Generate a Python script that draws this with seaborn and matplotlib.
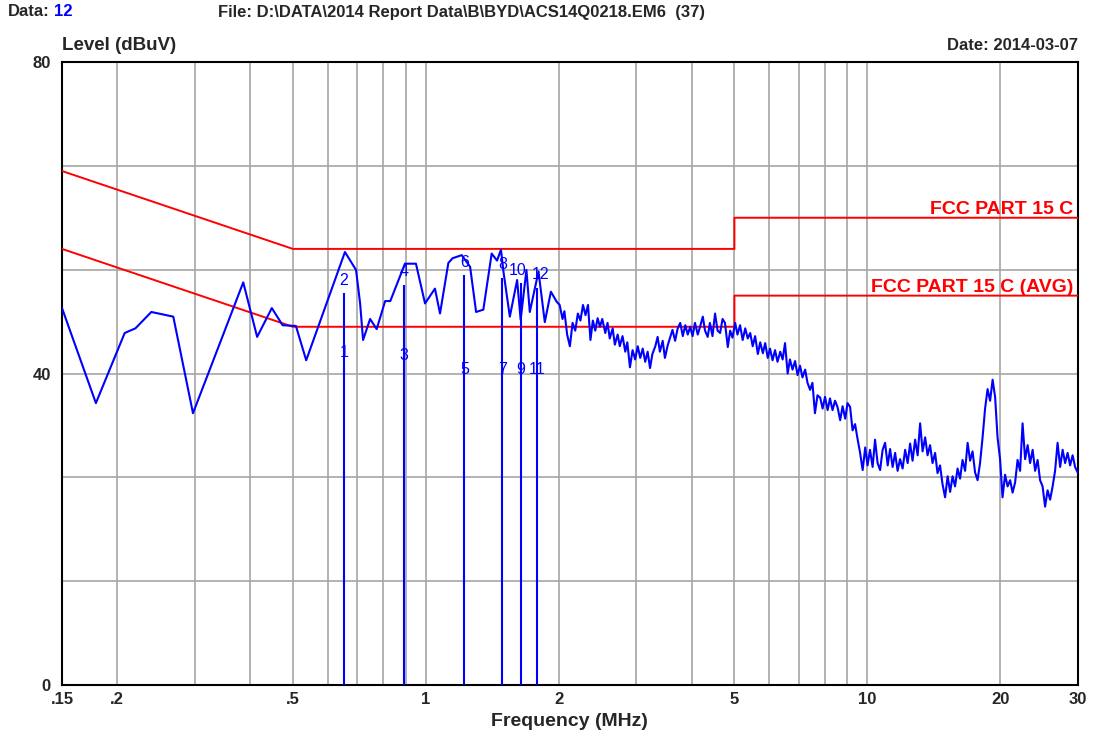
import numpy as np
import pandas as pd
import matplotlib
matplotlib.use("Agg")
import matplotlib.pyplot as plt
import seaborn as sns

# scan trace (MHz, dBuV), below 2 MHz
scan_freq_low = [
    0.150, 0.179, 0.208, 0.220, 0.239, 0.268, 0.297, 0.386, 0.415, 0.448,
    0.474, 0.508, 0.536, 0.656, 0.695, 0.710, 0.721, 0.748, 0.774, 0.809,
    0.831, 0.897, 0.950, 0.996, 1.049, 1.077, 1.125, 1.150, 1.206, 1.260,
    1.300, 1.350, 1.410, 1.450, 1.480, 1.500, 1.550, 1.610, 1.640, 1.690,
    1.720, 1.800, 1.860, 1.920, 1.980,
]
scan_level_low = [
    48.4, 36.2, 45.2, 45.8, 47.9, 47.3, 34.9, 51.7, 44.7, 48.4,
    46.2, 46.1, 41.7, 55.6, 53.3, 49.0, 44.3, 47.0, 45.7, 49.3,
    49.3, 54.1, 54.1, 49.0, 50.9, 47.7, 54.2, 54.8, 55.2, 53.7,
    47.9, 48.2, 55.4, 54.5, 55.9, 53.0, 47.3, 52.0, 46.9, 53.3,
    47.9, 53.1, 46.6, 50.5, 49.2,
]

# 2 - 30 MHz, dense part of the scan
scan_freq_high = [
    2.01, 2.04, 2.06, 2.09, 2.12, 2.15, 2.18, 2.21, 2.24, 2.27, 2.30, 2.33,
    2.36, 2.39, 2.42, 2.45, 2.48, 2.51, 2.55, 2.58, 2.61, 2.65, 2.68, 2.72,
    2.75, 2.79, 2.83, 2.86, 2.90, 2.94, 2.98, 3.02, 3.06, 3.10, 3.14, 3.18,
    3.22, 3.26, 3.31, 3.35, 3.39, 3.44, 3.48, 3.53, 3.57, 3.62, 3.67, 3.72,
    3.77, 3.82, 3.87, 3.92, 3.97, 4.02, 4.07, 4.13, 4.18, 4.24, 4.29, 4.35,
    4.40, 4.46, 4.52, 4.58, 4.64, 4.70, 4.76, 4.83, 4.89, 4.95, 5.02, 5.08,
    5.15, 5.22, 5.29, 5.36, 5.43, 5.50, 5.57, 5.65, 5.72, 5.80, 5.87, 5.95,
    6.02, 6.10, 6.18, 6.26, 6.35, 6.43, 6.51, 6.60, 6.68, 6.77, 6.86, 6.95,
    7.04, 7.13, 7.23, 7.32, 7.42, 7.51, 7.61, 7.71, 7.82, 7.92, 8.02, 8.13,
    8.23, 8.34, 8.45, 8.56, 8.68, 8.79, 8.91, 9.02, 9.14, 9.26, 9.38, 9.51,
    9.63, 9.76, 9.89, 10.01, 10.14, 10.28, 10.41, 10.55, 10.69, 10.83, 10.97, 11.12,
    11.26, 11.41, 11.56, 11.71, 11.86, 12.02, 12.18, 12.34, 12.50, 12.66, 12.83, 13.00,
    13.17, 13.34, 13.52, 13.69, 13.87, 14.05, 14.24, 14.42, 14.61, 14.80, 15.00, 15.20,
    15.40, 15.60, 15.80, 16.01, 16.22, 16.43, 16.65, 16.87, 17.09, 17.31, 17.54, 17.77,
    18.00, 18.24, 18.48, 18.72, 18.97, 19.22, 19.47, 19.72, 19.98, 20.24, 20.51, 20.78,
    21.06, 21.33, 21.61, 21.89, 22.18, 22.47, 22.77, 23.07, 23.37, 23.68, 23.99, 24.30,
    24.62, 24.94, 25.27, 25.60, 25.94, 26.28, 26.62, 26.97, 27.33, 27.69, 28.05, 28.42,
    28.79, 29.17, 29.55, 30.00,
]
scan_level_high = [
    48.8, 47.0, 48.0, 45.0, 43.5, 46.5, 45.5, 47.7, 46.8, 48.8, 47.5, 48.8,
    44.3, 46.8, 45.5, 47.1, 46.0, 47.0, 45.2, 46.5, 44.5, 45.8, 43.7, 45.0,
    43.5, 44.8, 42.8, 44.0, 40.8, 43.0, 41.8, 43.5, 42.0, 43.2, 41.5, 42.8,
    40.7, 42.5, 43.5, 44.7, 42.8, 44.2, 42.0, 43.6, 44.5, 45.6, 44.2, 45.8,
    46.5, 44.8, 46.2, 45.0, 46.0, 44.8, 46.5, 45.0, 46.0, 47.3, 45.5, 44.7,
    46.5, 44.8, 47.7, 45.5, 45.2, 47.0, 46.5, 43.4, 45.5, 44.6, 46.5, 45.0,
    46.2, 44.3, 45.8, 44.5, 45.2, 43.5, 44.8, 42.5, 44.0, 42.6, 43.9, 42.0,
    43.2, 41.7, 43.0, 41.5, 42.8, 41.8, 43.9, 40.0, 41.8, 40.5, 41.6, 39.8,
    41.0, 39.5, 40.5, 38.8, 37.9, 38.8, 34.9, 37.2, 36.9, 35.5, 37.0, 35.3,
    36.8, 35.3, 36.5, 35.7, 34.0, 35.8, 34.2, 36.2, 35.7, 32.7, 33.5, 31.5,
    29.8, 27.6, 30.5, 28.2, 30.2, 28.0, 31.5, 28.5, 27.6, 30.2, 31.1, 28.2,
    30.3, 28.0, 29.8, 27.5, 29.0, 27.8, 30.2, 28.5, 31.0, 28.8, 31.5, 29.5,
    33.6, 30.0, 31.8, 29.5, 30.8, 28.5, 29.8, 27.2, 28.2, 25.8, 24.1, 26.8,
    24.8, 26.8, 25.5, 27.8, 26.5, 28.9, 27.5, 31.1, 28.8, 30.0, 27.3, 26.3,
    28.5, 31.8, 35.5, 38.0, 36.5, 39.2, 37.0, 31.8, 29.0, 24.1, 27.0, 25.5,
    26.3, 24.7, 26.0, 28.9, 27.5, 33.6, 29.0, 30.8, 28.5, 30.2, 27.5, 28.9,
    26.3, 25.5, 22.9, 25.0, 23.8, 25.5, 27.5, 31.1, 28.0, 30.2, 28.5, 29.8,
    28.2, 29.5, 28.0, 27.2,
]

# FCC part 15 C limit lines
limit_freq = [0.15, 0.5, 5, 5, 30]
limit_qp = [66, 56, 56, 60, 60]
limit_avg = [56, 46, 46, 50, 50]

# marker readings: odd numbers = AVG, even numbers = QP
marker_freq = [0.653, 0.894, 1.223, 1.491, 1.644, 1.784]
marker_qp = [50.3, 51.4, 52.6, 52.3, 51.6, 51.0]
marker_avg = [41.0, 40.6, 38.8, 38.8, 38.8, 38.8]

xtick_pos = [0.15, 0.2, 0.5, 1, 2, 5, 10, 20, 30]
xtick_labels = [".15", ".2", ".5", "1", "2", "5", "10", "20", "30"]
xgrid_pos = [0.2, 0.3, 0.4, 0.5, 0.6, 0.7, 0.8, 0.9, 1, 2, 3, 4, 5, 6, 7, 8, 9, 10, 20]
ygrid_pos = [0, 80 / 6, 160 / 6, 40, 320 / 6, 400 / 6, 80]
ytick_labels = ["0", "", "", "40", "", "", "80"]

sns.set_style("white")
plt.rcParams["font.family"] = ["Liberation Sans", "DejaVu Sans"]

W, H = 1099, 737
fig = plt.figure(figsize=(W / 100, H / 100), dpi=100)
ax = fig.add_axes([62 / W, 1 - 685 / H, (1078 - 62) / W, (685 - 62) / H])
ax.set_xscale("log")

df_scan = pd.DataFrame({"freq": scan_freq_low + scan_freq_high,
                        "level": scan_level_low + scan_level_high})
df_lim = pd.DataFrame({"freq": limit_freq, "qp": limit_qp, "avg": limit_avg})

sns.lineplot(data=df_lim, x="freq", y="qp", ax=ax, color="#ff0000", lw=1.4,
             sort=False, estimator=None, zorder=3)
sns.lineplot(data=df_lim, x="freq", y="avg", ax=ax, color="#ff0000", lw=1.4,
             sort=False, estimator=None, zorder=3)
sns.lineplot(data=df_scan, x="freq", y="level", ax=ax, color="#0000ff", lw=1.5,
             sort=False, estimator=None, zorder=4)

tops = np.maximum(marker_qp, marker_avg)
ax.vlines(marker_freq, 0, tops, color="#0000ff", lw=1.5, zorder=4)
# labels 10 and 12 sit close together, nudge them apart a little
nudge = [0, 0, 0, 0, -2.5, 2.5]
for i, f in enumerate(marker_freq):
    ax.annotate(str(2 * i + 1), xy=(f, marker_avg[i]), xytext=(0, 4),
                textcoords="offset points", ha="center", va="bottom",
                color="#0000ff", fontsize=11.5, zorder=5)
    ax.annotate(str(2 * i + 2), xy=(f, marker_qp[i]), xytext=(nudge[i], 4),
                textcoords="offset points", ha="center", va="bottom",
                color="#0000ff", fontsize=11.5, zorder=5)

ax.set_xlim(0.15, 30)
ax.set_ylim(0, 80)
ax.xaxis.remove_overlapping_locs = False
ax.set_xticks(xtick_pos)
ax.set_xticklabels(xtick_labels, fontweight="bold", fontsize=12)
ax.set_xticks(xgrid_pos, minor=True)
ax.xaxis.set_minor_formatter(matplotlib.ticker.NullFormatter())
ax.set_yticks(ygrid_pos)
ax.set_yticklabels(ytick_labels, fontweight="bold", fontsize=12)
ax.tick_params(axis="both", which="both", length=0)
ax.tick_params(axis="x", pad=5)
ax.tick_params(axis="y", pad=8)
ax.grid(True, which="minor", axis="x", color="#a6a6a6", lw=1.2)
ax.grid(True, which="major", axis="y", color="#a6a6a6", lw=1.2)
ax.set_xlabel("")
ax.set_ylabel("")
for s in ax.spines.values():
    s.set_color("black")
    s.set_linewidth(1.5)

ax.text(29.3, 60.0, "FCC PART 15 C", ha="right", va="bottom",
        color="#ff0000", fontweight="bold", fontsize=14)
ax.text(29.3, 50.0, "FCC PART 15 C (AVG)", ha="right", va="bottom",
        color="#ff0000", fontweight="bold", fontsize=14)


def ftxt(x, y, s, size=12, **kw):
    fig.text(x / W, 1 - y / H, s, fontweight="bold", fontsize=size, va="center", **kw)


ftxt(8, 12, "Data:")
ftxt(54, 12, "12", color="#0000ff")
ftxt(218, 12, "File: D:\\DATA\\2014 Report Data\\B\\BYD\\ACS14Q0218.EM6  (37)")
ftxt(62, 46, "Level (dBuV)", size=13.5)
ftxt(1078, 46, "Date: 2014-03-07", ha="right")
ftxt(569, 722, "Frequency (MHz)", size=14, ha="center")

fig.savefig("out.png", dpi=100, facecolor="white")
